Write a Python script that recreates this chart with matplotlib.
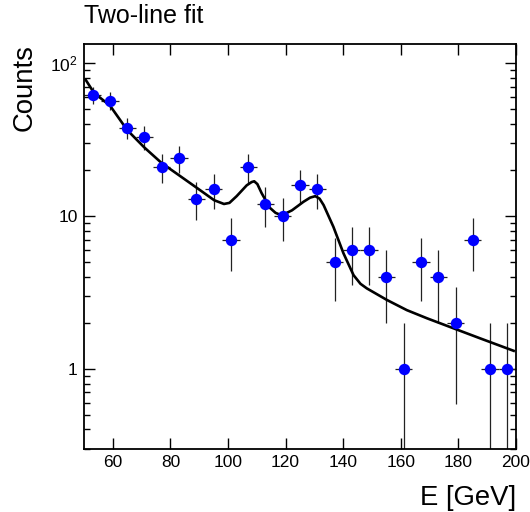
import numpy as np
import matplotlib
matplotlib.use("Agg")
import matplotlib.pyplot as plt
from matplotlib.ticker import FixedLocator, FixedFormatter, NullFormatter, NullLocator

plt.rcParams['font.family'] = ['Liberation Sans', 'DejaVu Sans']

# ---- data ----
bin_centers = [53, 59, 65, 71, 77, 83, 89, 95, 101, 107, 113, 119, 125,
               131, 137, 143, 149, 155, 161, 167, 173, 179, 185, 191, 197]
counts = [62, 57, 38, 33, 21, 24, 13, 15, 7, 21, 12, 10, 16,
          15, 5, 6, 6, 4, 1, 5, 4, 2, 7, 1, 1]
bin_half_width = 3

# fit curve
fit_x = [50.6, 53.5, 59.0, 65.0, 70.9, 76.9, 83.0, 89.4, 95.2, 98.6, 100.5,
         103.0, 106.5, 108.2, 109.1, 110.2, 111.7, 114.6, 116.5, 118.1, 120.0,
         122.2, 126.2, 128.5, 130.3, 131.8, 133.2, 136.6, 140.1, 143.6, 146.0,
         148.2, 155.2, 162.1, 169.1, 178.3, 187.6, 199.2]
fit_y = [78, 64, 53, 36.6, 28.2, 22.3, 18.5, 15.2, 12.7, 12.0, 12.2,
         13.5, 15.9, 16.7, 16.9, 16.2, 14.1, 11.3, 10.5, 10.2, 10.4,
         10.9, 12.4, 13.2, 13.5, 13.0, 11.8, 8.5, 5.7, 4.1, 3.6,
         3.36, 2.82, 2.42, 2.14, 1.84, 1.58, 1.31]

title = "Two-line fit"
xlabel = "E [GeV]"
ylabel = "Counts"
xticks = [60, 80, 100, 120, 140, 160, 180, 200]
yticks = [1, 10, 100]
ytick_labels = ['1', '10', r'$\mathregular{10^{2}}$']

# ---- figure ----
fig = plt.figure(figsize=(5.30, 5.12), dpi=100)
ax = fig.add_axes([84/530, 1-449/512, 432/530, 405/512])

yerr = np.sqrt(np.array(counts, dtype=float))
ax.set_yscale('log', nonpositive='clip')
ax.errorbar(bin_centers, counts, yerr=yerr, xerr=bin_half_width, fmt='none',
            ecolor='#222222', elinewidth=0.9, capsize=0, zorder=2)
ax.plot(fit_x, fit_y, color='black', lw=1.9, zorder=3)
ax.plot(bin_centers, counts, 'o', color='#0000ff', markersize=8.2,
        markeredgewidth=0, zorder=4)

ax.set_xlim(50, 200)
ax.set_ylim(0.298, 134)

ax.xaxis.set_major_locator(FixedLocator(xticks))
ax.xaxis.set_minor_locator(NullLocator())
ax.yaxis.set_major_locator(FixedLocator(yticks))
ax.yaxis.set_major_formatter(FixedFormatter(ytick_labels))
minor = [m * 10.0**e for e in (-1, 0, 1, 2) for m in range(2, 10)]
ax.yaxis.set_minor_locator(FixedLocator(minor))
ax.yaxis.set_minor_formatter(NullFormatter())

ax.tick_params(which='both', direction='in', top=True, right=True,
               labelsize=12.5, color='black', width=1.0)
ax.tick_params(which='major', length=8, pad=4.5)
ax.tick_params(which='minor', length=4.5)

for s in ax.spines.values():
    s.set_linewidth(1.3)

ax.set_xlabel(xlabel, fontsize=19.8, loc='right')
ax.set_ylabel(ylabel, fontsize=19.8, loc='top')
ax.xaxis.set_label_coords(1.0, -0.088)
ax.yaxis.set_label_coords(-0.108, 1.0)

fig.text(84/530, 1-23/512, title, fontsize=18, ha='left', va='baseline')

fig.savefig('out.png', dpi=100)
